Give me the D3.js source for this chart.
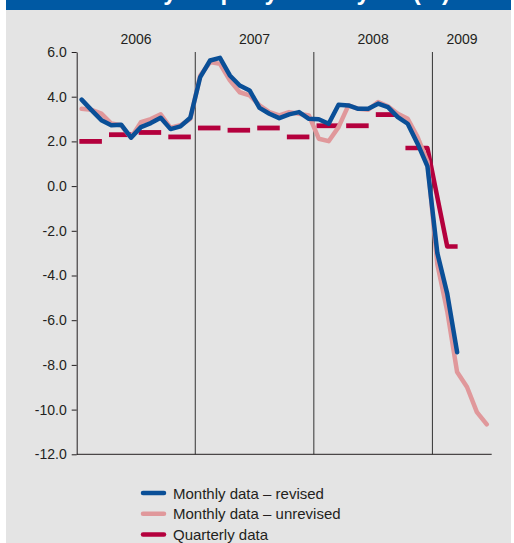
<!DOCTYPE html>
<html lang="en">
<head>
<meta charset="utf-8">
<title>Monthly and quarterly output</title>
<script type="text/javascript" src="https://cdn.jsdelivr.net/npm/d3@7"></script>
<style>
  body { margin: 0; background: #fff; }
  text { font-family: "Liberation Sans", Arial, sans-serif; fill: #231f20; }
</style>
</head>
<body>
<div id="bod"></div>
<script type="text/javascript">
// month index 0 = Jan 2006
let years = ["2006", "2007", "2008", "2009"]
let yTicks = [6, 4, 2, 0, -2, -4, -6, -8, -10, -12]

// Monthly data - revised (Jan 2006 .. Mar 2009)
let revised = [3.87, 3.40, 2.95, 2.72, 2.75, 2.17, 2.64, 2.82, 3.06, 2.55, 2.67, 3.06,
               4.88, 5.62, 5.74, 4.95, 4.50, 4.28, 3.50, 3.24, 3.04, 3.21, 3.31, 3.01,
               2.99, 2.79, 3.64, 3.61, 3.46, 3.46, 3.69, 3.53, 3.09, 2.79, 1.90, 0.88,
               -3.00, -4.81, -7.43]

// Monthly data - unrevised (Jan 2006 .. Jun 2009)
let unrevised = [3.46, 3.41, 3.24, 2.80, 2.72, 2.17, 2.86, 3.00, 3.21, 2.61, 2.72, 3.01,
                 4.95, 5.55, 5.47, 4.73, 4.20, 4.06, 3.61, 3.31, 3.16, 3.31, 3.24, 3.16,
                 2.12, 2.01, 2.64, 3.61, 3.46, 3.42, 3.76, 3.57, 3.24, 3.01, 2.19, 1.10,
                 -3.50, -5.60, -8.32, -8.99, -10.11, -10.66]

// Quarterly data (Q1 2006 .. Q1 2009)
let quarterly = [2.0, 2.3, 2.4, 2.2, 2.6, 2.5, 2.6, 2.2, 2.7, 2.7, 3.2, 1.7, -2.7]

let legendItems = [
  {label: "Monthly data \u2013 revised", color: "#0a4f97"},
  {label: "Monthly data \u2013 unrevised", color: "#e0989b"},
  {label: "Quarterly data", color: "#b4003d"}
]

let w = 514
let h = 543
let mLeft = 76.7, mRight = 491.7, mTop = 52, mBottom = 454.3

let svg = d3.select("#bod")
            .append("svg")
            .attr("width", w)
            .attr("height", h);

// panel + header bar (title sits mostly above the crop, as in the source)
svg.append("rect").attr("x", 6).attr("y", 0).attr("width", 505).attr("height", h).attr("fill", "#e4e4e4");
svg.append("rect").attr("x", 6).attr("y", 0).attr("width", 505).attr("height", 10).attr("fill", "#0059a3");
svg.append("text")
    .attr("x", 450).attr("y", -0.5)
    .attr("text-anchor", "end")
    .style("font-size", "24px").style("font-weight", "bold").style("fill", "#fff")
    .text("Monthly output year on year (%)");

let x = d3.scaleLinear().domain([0, 42]).range([mLeft, mRight]);
let y = d3.scaleLinear().domain([-12, 6]).range([mBottom, mTop]);

// year dividers
svg.append("g").selectAll("line")
    .data([12, 24, 36])
  .enter().append("line")
    .attr("x1", d => x(d)).attr("x2", d => x(d))
    .attr("y1", y(6)).attr("y2", y(-12))
    .attr("stroke", "#333").attr("stroke-width", 1);

// year labels
svg.append("g").selectAll("text")
    .data(years)
  .enter().append("text")
    .attr("x", (d, i) => x((i * 12 + Math.min(i * 12 + 12, 42)) / 2))
    .attr("y", 44)
    .attr("text-anchor", "middle")
    .style("font-size", "14px")
    .text(d => d);

// y axis
let yAxis = svg.append("g")
    .attr("transform", "translate(" + mLeft + ",0)")
    .call(d3.axisLeft(y).tickValues(yTicks).tickSize(5).tickSizeOuter(0).tickPadding(5)
          .tickFormat(d => d.toFixed(1)));
yAxis.selectAll("text").style("font-size", "14px").attr("fill", "#231f20");
yAxis.selectAll("line").attr("stroke", "#231f20");
yAxis.select(".domain").attr("stroke", "#231f20");

// x axis baseline
svg.append("line")
    .attr("x1", x(0)).attr("x2", x(42))
    .attr("y1", y(-12)).attr("y2", y(-12))
    .attr("stroke", "#231f20");

let line = d3.line()
    .x((d, i) => x(i + 0.5))
    .y(d => y(d));

// quarterly: separate dashes, last two quarters joined
let qStart = 0.27, qEnd = 2.55
let g = svg.append("g");
quarterly.slice(0, quarterly.length - 2).forEach(function(v, q) {
  g.append("line")
    .attr("x1", x(3 * q + qStart)).attr("x2", x(3 * q + qEnd))
    .attr("y1", y(v)).attr("y2", y(v))
    .attr("stroke", "#b4003d").attr("stroke-width", 4.8);
});
let n = quarterly.length
let tail = [
  [3 * (n - 2) + qStart, quarterly[n - 2]],
  [3 * (n - 2) + 2.5, quarterly[n - 2]],
  [3 * (n - 1) + 1.5, quarterly[n - 1]],
  [3 * (n - 1) + qEnd, quarterly[n - 1]]
]
g.append("path")
    .datum(tail)
    .attr("d", d3.line().x(d => x(d[0])).y(d => y(d[1])))
    .attr("fill", "none")
    .attr("stroke", "#b4003d").attr("stroke-width", 4.5)
    .attr("stroke-linejoin", "round");

svg.append("path")
    .datum(unrevised)
    .attr("d", line)
    .attr("fill", "none")
    .attr("stroke", "#e0989b").attr("stroke-width", 4.5)
    .attr("stroke-linejoin", "round").attr("stroke-linecap", "round");

svg.append("path")
    .datum(revised)
    .attr("d", line)
    .attr("fill", "none")
    .attr("stroke", "#0a4f97").attr("stroke-width", 4.5)
    .attr("stroke-linejoin", "round").attr("stroke-linecap", "round");

// legend
let lg = svg.append("g").selectAll("g")
    .data(legendItems)
  .enter().append("g")
    .attr("transform", (d, i) => "translate(143," + (493 + i * 20.8) + ")");
lg.append("line")
    .attr("x1", 0).attr("x2", 21)
    .attr("stroke", d => d.color).attr("stroke-width", 4.5)
    .attr("stroke-linecap", "round");
lg.append("text")
    .attr("x", 30).attr("y", 5.5)
    .style("font-size", "15px")
    .text(d => d.label);
</script>
</body>
</html>
